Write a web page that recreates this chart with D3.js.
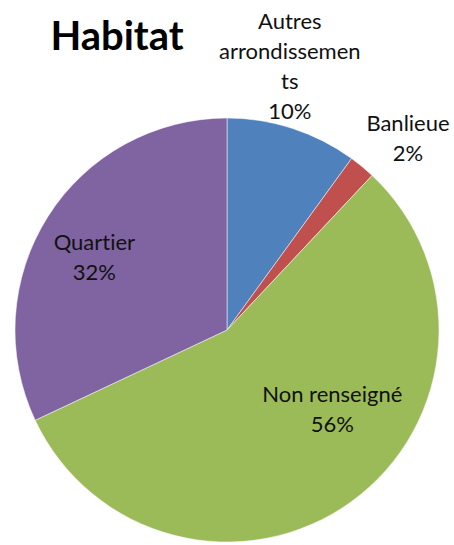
<!DOCTYPE html>
<html>
<head>
<meta charset="utf-8">
<script src="https://cdn.jsdelivr.net/npm/d3@7"></script>
<style>
	html, body { margin: 0; padding: 0; background: #fff; }
	svg { display: block; font-family: Lato, "Open Sans", sans-serif; font-variant-ligatures: none; }
</style>
</head>
<body>
<svg></svg>
<script>
// Habitat - share of respondents
const categories = ['Autres arrondissements', 'Banlieue', 'Non renseigné', 'Quartier'];
const values = [10, 2, 56, 32];
const labelLines = [
	['Autres', 'arrondissemen', 'ts', '10%'],
	['Banlieue', '2%'],
	['Non renseigné', '56%'],
	['Quartier', '32%'],
];
const colors = ['#4f81bd', '#c0504d', '#9bbb59', '#8064a2'];

function renderPie() {
	const width = 454;
	const height = 545;
	const cx = 227;
	const cy = 330;
	const radius = 212;

	const svg = d3.select('body').select('svg')
		.attr('width', width)
		.attr('height', height);

	svg.append('text')
		.attr('x', 117)
		.attr('y', 50)
		.attr('text-anchor', 'middle')
		.attr('font-size', 40)
		.attr('font-weight', 'bold')
		.attr('fill', '#000')
		.text('Habitat');

	const g = svg.append('g')
		.attr('transform', 'translate(' + cx + ',' + cy + ')');

	const pie = d3.pie().sort(null).value(d => d);
	const arcs = pie(values);

	const arc = d3.arc().innerRadius(0).outerRadius(radius);

	g.selectAll('.slice')
		.data(arcs)
		.enter().append('path')
		.attr('class', 'slice')
		.attr('d', arc)
		.attr('fill', (d, i) => colors[i])
		.attr('stroke', '#fff')
		.attr('stroke-width', 0.5);

	// label placement: radius along the slice bisector, then a nudge
	const labelRadius = [268, 262, 140, 150];
	const nudge = [[-20, -8], [14, 11], [23, -33], [-6, 8]];
	const lineHeight = 30;

	arcs.forEach((d, i) => {
		const la = d3.arc().innerRadius(labelRadius[i]).outerRadius(labelRadius[i]);
		const c = la.centroid(d);
		const lines = labelLines[i];
		const x = c[0] + nudge[i][0];
		const y0 = c[1] + nudge[i][1] - (lines.length - 1) * lineHeight / 2 + 7;
		const t = g.append('text')
			.attr('text-anchor', 'middle')
			.attr('font-size', 22)
			.attr('fill', '#111');
		lines.forEach((s, k) => {
			t.append('tspan')
				.attr('x', x)
				.attr('y', y0 + k * lineHeight)
				.text(s);
		});
	});
}

renderPie();
</script>
</body>
</html>
